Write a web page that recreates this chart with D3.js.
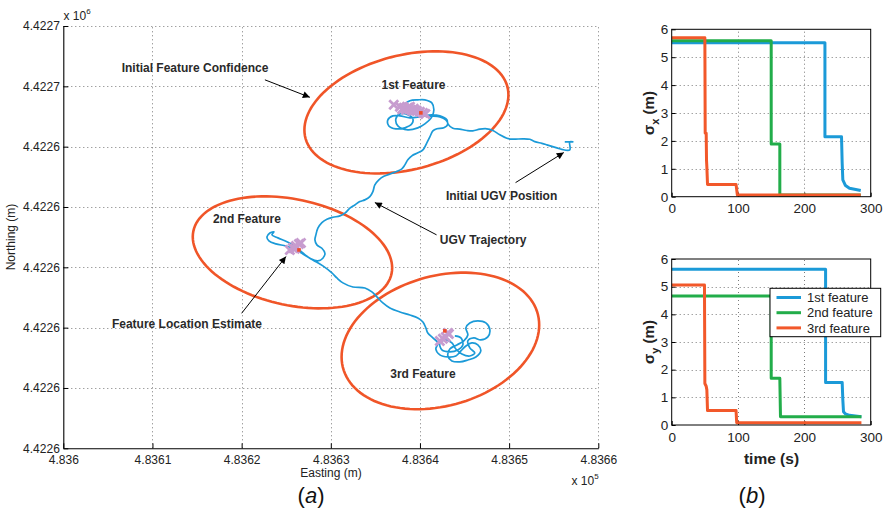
<!DOCTYPE html>
<html><head><meta charset="utf-8">
<script src="https://cdn.jsdelivr.net/npm/d3@7"></script>
<style>
body{margin:0;background:#fff}
svg{display:block}
text{font-family:"Liberation Sans",Arial,Helvetica,sans-serif}
</style>
</head><body>
<svg id="chart" width="886" height="515"></svg>
<script>
// ---------------- DATA ----------------
const eastOrigin = 483600;      // m
const northOrigin = 4422625;    // m
const xTickOffsets = [0, 10, 20, 30, 40, 50, 60];
const xTickLabels = ["4.836", "4.8361", "4.8362", "4.8363", "4.8364", "4.8365", "4.8366"];
const yTickOffsets = [0, 5, 10, 15, 20, 25, 30, 35];
const yTickLabels = ["4.4226", "4.4226", "4.4226", "4.4226", "4.4226", "4.4226", "4.4227", "4.4227"];

// UGV trajectory (easting offset m, northing offset m)
const trajectory = [
[56.24,25.40],[57.14,25.40],[56.80,25.40],[56.80,24.73],[55.91,24.77],[55.35,24.90],[54.23,25.15],[53.67,25.27],[52.88,25.42],[52.32,25.61],[51.54,25.65],[50.41,25.62],[49.74,25.70],[48.96,25.98],[48.17,26.34],[47.50,26.48],[46.72,26.45],[45.93,26.31],[45.26,26.34],[44.47,26.45],[43.69,26.53],[43.13,26.89],[43.02,27.22],[42.23,27.55],[41.33,27.64],[39.99,27.47],[38.87,27.39],[37.75,27.55],[36.96,27.55],[36.40,27.22],[36.51,26.72],[37.30,26.48],[38.31,26.56],[39.09,26.89],[39.20,27.31],[38.64,27.64],[37.75,27.72],[37.30,27.31],[37.52,26.72],[38.64,26.39],[39.76,26.56],[40.55,26.89],[41.33,27.47],[41.56,28.05],[41.33,28.63],[40.55,28.88],[39.76,28.88],[38.87,28.80],[38.31,28.47],[38.53,28.05],[39.43,27.80],[40.88,27.55],[42.23,27.47],[42.90,27.22],[43.13,26.89],[42.68,26.56],[41.90,26.48],[41.45,26.31],[41.11,25.81],[40.77,25.32],[40.33,24.73],[39.76,24.49],[39.09,24.24],[38.64,23.91],[38.31,23.49],[37.97,23.16],[37.52,22.99],[36.85,22.79],[35.95,22.54],[35.39,22.25],[34.94,21.83],[34.72,21.28],[34.38,20.86],[33.82,20.59],[33.26,20.45],[32.70,20.17],[32.14,19.90],[31.58,19.49],[31.02,19.26],[30.24,19.15],[29.56,18.99],[29.00,18.71],[28.55,18.24],[28.33,17.69],[28.22,17.27],[28.44,16.86],[29.00,16.58],[29.34,16.17],[29.11,15.75],[28.55,15.53],[27.77,15.70],[26.87,16.19],[26.09,16.69],[25.08,17.11],[24.07,17.44],[23.40,17.69],[23.62,17.94],[23.17,17.85],[22.84,17.52],[23.06,17.19],[23.85,16.94],[24.97,16.77],[25.86,16.53],[26.87,16.11],[27.99,15.61],[29.11,15.12],[30.12,14.54],[30.68,14.12],[31.36,13.71],[32.48,13.37],[33.82,13.29],[34.61,12.96],[35.17,12.55],[35.84,12.05],[36.63,11.63],[37.75,11.30],[38.87,11.05],[39.76,10.80],[40.33,10.47],[40.66,9.98],[40.88,9.56],[41.45,9.15],[42.01,8.73],
[41.78,8.23],[42.23,7.74],[43.13,7.57],[44.02,7.65],[44.59,8.07],[45.15,8.48],[45.82,8.73],[46.49,8.57],[46.82,8.07],[46.27,7.57],[45.37,7.32],[44.47,7.16],[43.58,7.24],[43.13,7.65],[43.35,8.23],[44.14,8.57],[44.92,8.90],[45.37,9.39],[45.15,9.98],[45.59,10.39],[46.49,10.56],[47.39,10.39],[47.84,9.81],[47.61,9.23],[46.82,8.98],[46.04,9.15],[45.37,8.90],[45.59,8.32],[46.15,7.90],[45.59,7.65],[44.70,7.82],[44.02,8.23],[43.58,8.73],[42.90,8.98],[42.23,8.73],[42.46,8.15],[43.35,7.99],[44.25,8.15],[44.81,8.57],[44.59,9.15],[43.91,9.31]
];

// Initial feature confidence ellipses (center offsets m, extents m, correlation)
const ellipseCenters = [[38.48, 27.84], [25.70, 16.24], [42.29, 8.90]];
const ellipseExtents = [[11.44, 5.06], [11.18, 4.64], [11.08, 5.66]];
const ellipseCorr = [0.287, -0.277, 0.234];

// Feature location estimates (easting offset, northing offset)
const estimates1 = [[37.06,28.47],[37.75,28.30],[38.19,28.22],[38.64,28.22],[38.98,28.05],[39.31,28.14],[39.65,27.97],[39.99,27.89],[40.33,27.80],[38.42,28.05],[38.87,28.30],[39.5,28.0],[38.0,28.1],[39.2,27.95],[40.6,27.7]];
const estimates2 = [[25.41,16.44],[25.75,16.61],[26.09,16.77],[26.43,16.94],[26.65,17.02],[25.97,16.53]];
const estimates3 = [[42.23,8.90],[42.57,9.07],[42.90,9.23],[43.24,9.48],[43.13,9.56]];
const truthMarks = [[40.10,27.80],[26.43,16.44],[42.79,9.73]];

// Annotations: text, center (easting offset, northing offset)
const annotTexts = ["Initial Feature Confidence", "1st Feature", "Initial UGV Position", "UGV Trajectory", "2nd Feature", "Feature Location Estimate", "3rd Feature"];
const annotPos = [[14.77,31.53],[39.28,30.12],[49.15,20.95],[47.09,17.33],[20.59,19.07],[13.87,10.31],[40.33,6.22]];
const arrowFrom = [[22.61,30.54],[50.72,22.02],[41.86,17.69],[20.0,11.19]];
const arrowTo   = [[27.65,29.09],[56.13,24.51],[34.94,20.37],[24.97,15.89]];

// Right panels: time (s), sigma (m)
const timeTicks = [0, 100, 200, 300];
const sigmaTicks = [0, 1, 2, 3, 4, 5, 6];
const seriesNames = ["1st feature", "2nd feature", "3rd feature"];
const seriesColors = ["#1b9ad8", "#22ad4a", "#f2582a"];
const sigmaX1 = [[0,5.52],[231,5.52],[231,2.15],[256,2.15],[257,1.2],[258,0.6],[262,0.4],[268,0.3],[285,0.22]];
const sigmaX2 = [[0,5.59],[150,5.59],[150,1.89],[163,1.89],[163,0.06],[285,0.06]];
const sigmaX3 = [[0,5.70],[50,5.70],[50.5,2.27],[52,2.27],[52.5,1.3],[53,1.07],[54,0.44],[97,0.44],[99,0.06],[285,0.06]];
const sigmaY1 = [[0,5.63],[232,5.63],[232,1.54],[257,1.54],[258,0.9],[259,0.48],[262,0.40],[268,0.35],[286,0.30]];
const sigmaY2 = [[0,4.66],[150,4.66],[150,1.69],[163,1.69],[164,0.30],[286,0.30]];
const sigmaY3 = [[0,5.06],[49.4,5.06],[50,1.5],[52,1.4],[53,1.27],[54,0.52],[97,0.52],[98,0.08],[286,0.08]];

// ---------------- DRAW ----------------
const svg = d3.select("#chart");
const gridColor = "#7a7a7a";
const textColor = "#222";
const snap = v => Math.round(v) + 0.5;

svg.append("defs").append("marker")
  .attr("id", "arrow").attr("viewBox", "0 0 10 10").attr("refX", 10).attr("refY", 5)
  .attr("markerWidth", 9).attr("markerHeight", 7).attr("markerUnits", "userSpaceOnUse")
  .attr("orient", "auto")
  .append("path").attr("d", "M0,0L10,5L0,10z").attr("fill", "#000");

// ===== Main plot =====
const x = d3.scaleLinear().domain([eastOrigin, eastOrigin + 60]).range([63.3, 598.3]);
const y = d3.scaleLinear().domain([northOrigin, northOrigin + 35]).range([448.3, 26]);
const X = e => x(eastOrigin + e);
const Y = n => y(northOrigin + n);

const main = svg.append("g");
main.append("g").selectAll("line").data(xTickOffsets.slice(1)).join("line")
  .attr("x1", d => snap(X(d))).attr("x2", d => snap(X(d))).attr("y1", y.range()[0]).attr("y2", y.range()[1])
  .attr("stroke", gridColor).attr("stroke-dasharray", "1,3").attr("stroke-width", 1);
main.append("g").selectAll("line").data(yTickOffsets.slice(1)).join("line")
  .attr("y1", d => snap(Y(d))).attr("y2", d => snap(Y(d))).attr("x1", x.range()[0]).attr("x2", x.range()[1])
  .attr("stroke", gridColor).attr("stroke-dasharray", "1,3").attr("stroke-width", 1);

const xAxis = d3.axisBottom(x).tickValues(xTickOffsets.map(d => eastOrigin + d))
  .tickFormat((d, i) => xTickLabels[i]).tickSizeInner(-5).tickSizeOuter(0).tickPadding(7);
const yAxis = d3.axisLeft(y).tickValues(yTickOffsets.map(d => northOrigin + d))
  .tickFormat((d, i) => yTickLabels[i]).tickSizeInner(-5).tickSizeOuter(0).tickPadding(3.5);
const gx = main.append("g").attr("transform", "translate(0,448.3)").call(xAxis);
const gy = main.append("g").attr("transform", "translate(63.3,0)").call(yAxis);
[gx, gy].forEach(g => {
  g.selectAll("text").attr("font-size", 12).attr("fill", textColor).attr("font-family", "Liberation Sans, Arial, sans-serif");
  g.select(".domain").attr("stroke", "#000").attr("stroke-width", 1.1);
  g.selectAll(".tick line").attr("stroke", "#000");
});

main.append("text").attr("x", 331).attr("y", 477).attr("text-anchor", "middle")
  .attr("font-size", 12).attr("fill", textColor).text("Easting (m)");
main.append("text").attr("transform", "translate(15,237) rotate(-90)").attr("text-anchor", "middle")
  .attr("font-size", 12).attr("fill", textColor).text("Northing (m)");
const e6 = main.append("text").attr("x", 63.5).attr("y", 20).attr("font-size", 12).attr("fill", textColor);
e6.append("tspan").text("x 10");
e6.append("tspan").attr("font-size", 8).attr("dy", -6).text("6");
const e5 = main.append("text").attr("x", 571.5).attr("y", 484.5).attr("font-size", 12).attr("fill", textColor);
e5.append("tspan").text("x 10");
e5.append("tspan").attr("font-size", 8).attr("dy", -6).text("5");

// ellipses
const tSteps = d3.range(0, 361, 3).map(a => a * Math.PI / 180);
const ellipsePts = i => {
  const [ce, cn] = ellipseCenters[i], [sx, sy] = ellipseExtents[i], r = ellipseCorr[i];
  return tSteps.map(t => [ce + sx * Math.cos(t), cn + sy * (r * Math.cos(t) + Math.sqrt(1 - r * r) * Math.sin(t))]);
};
main.append("g").selectAll("path").data(ellipseCenters.map((_, i) => ellipsePts(i))).join("path")
  .attr("d", d3.line().x(d => X(d[0])).y(d => Y(d[1])).curve(d3.curveLinearClosed))
  .attr("fill", "none").attr("stroke", "#f05528").attr("stroke-width", 2.6);

// trajectory
main.append("path").datum(trajectory)
  .attr("d", d3.line().x(d => X(d[0])).y(d => Y(d[1])).curve(d3.curveCatmullRom.alpha(0.5)))
  .attr("fill", "none").attr("stroke", "#1b9ad8").attr("stroke-width", 1.7).attr("stroke-linejoin", "round");

// feature estimates
const allEst = estimates1.concat(estimates2, estimates3);
main.append("g").selectAll("path").data(allEst).join("path")
  .attr("transform", d => `translate(${X(d[0])},${Y(d[1])})`)
  .attr("d", "M-4.5,-4.5L4.5,4.5M-4.5,4.5L4.5,-4.5")
  .attr("stroke", "#c79ccf").attr("stroke-width", 2.8).attr("fill", "none");
main.append("g").selectAll("rect").data(truthMarks).join("rect")
  .attr("x", d => X(d[0]) - 1.8).attr("y", d => Y(d[1]) - 1.8).attr("width", 3.6).attr("height", 3.6)
  .attr("fill", "#ee4a2a");

// annotations
main.append("g").selectAll("text").data(annotTexts).join("text")
  .attr("x", (d, i) => X(annotPos[i][0])).attr("y", (d, i) => Y(annotPos[i][1]) + 4.3)
  .attr("text-anchor", "middle").attr("font-size", 12).attr("font-weight", "bold")
  .attr("fill", "#2a2a2a").text(d => d);
main.append("g").selectAll("line").data(arrowFrom).join("line")
  .attr("x1", d => X(d[0])).attr("y1", d => Y(d[1]))
  .attr("x2", (d, i) => X(arrowTo[i][0])).attr("y2", (d, i) => Y(arrowTo[i][1]))
  .attr("stroke", "#000").attr("stroke-width", 1).attr("marker-end", "url(#arrow)");

const la = svg.append("text").attr("x", 311).attr("y", 503).attr("text-anchor", "middle")
  .attr("font-size", 22).attr("font-family", "Liberation Serif, Times New Roman, serif").attr("fill", "#111");
la.append("tspan").text("(");
la.append("tspan").attr("font-style", "italic").text("a");
la.append("tspan").text(")");

// ===== Right panels =====
const xt = d3.scaleLinear().domain([0, 300]).range([671.7, 870.7]);
function panel(top, bottom, series, sub) {
  const ys = d3.scaleLinear().domain([0, 6]).range([bottom, top]);
  const g = svg.append("g");
  g.append("g").selectAll("line").data([100, 200]).join("line")
    .attr("x1", d => snap(xt(d))).attr("x2", d => snap(xt(d))).attr("y1", bottom).attr("y2", top)
    .attr("stroke", gridColor).attr("stroke-dasharray", "1,3");
  g.append("g").selectAll("line").data([1, 2, 3, 4, 5]).join("line")
    .attr("y1", d => snap(ys(d))).attr("y2", d => snap(ys(d))).attr("x1", xt.range()[0]).attr("x2", xt.range()[1])
    .attr("stroke", gridColor).attr("stroke-dasharray", "1,3");
  const ax = g.append("g").attr("transform", `translate(0,${bottom})`)
    .call(d3.axisBottom(xt).tickValues(timeTicks).tickFormat(d3.format("d")).tickSizeInner(-4).tickSizeOuter(0).tickPadding(7));
  const ay = g.append("g").attr("transform", `translate(${xt.range()[0]},0)`)
    .call(d3.axisLeft(ys).tickValues(sigmaTicks).tickFormat(d3.format("d")).tickSizeInner(-4).tickSizeOuter(0).tickPadding(3.5));
  [ax, ay].forEach(a => {
    a.selectAll("text").attr("font-size", 13.5).attr("fill", textColor).attr("font-family", "Liberation Sans, Arial, sans-serif");
    a.select(".domain").attr("stroke", "none");
    a.selectAll(".tick line").attr("stroke", "#000");
  });
  const line = d3.line().x(d => xt(d[0])).y(d => ys(d[1]));
  g.append("g").selectAll("path").data(series).join("path")
    .attr("d", line).attr("fill", "none").attr("stroke", (d, i) => seriesColors[i])
    .attr("stroke-width", 3).attr("stroke-linejoin", "round");
  g.append("rect").attr("x", xt.range()[0]).attr("y", top)
    .attr("width", xt.range()[1] - xt.range()[0]).attr("height", bottom - top)
    .attr("fill", "none").attr("stroke", "#000").attr("stroke-width", 1);
  const lab = g.append("text").attr("transform", `translate(654,${(top + bottom) / 2}) rotate(-90)`)
    .attr("text-anchor", "middle").attr("font-size", 15).attr("font-weight", "bold").attr("fill", textColor);
  lab.append("tspan").text("σ");
  lab.append("tspan").attr("font-size", 11).attr("dy", 5).text(sub);
  lab.append("tspan").attr("dy", -5).text(" (m)");
  return ys;
}
panel(29.3, 196.7, [sigmaX1, sigmaX2, sigmaX3], "x");
panel(259, 425, [sigmaY1, sigmaY2, sigmaY3], "y");

svg.append("text").attr("x", 771.5).attr("y", 463.5).attr("text-anchor", "middle")
  .attr("font-size", 15.5).attr("font-weight", "bold").attr("fill", textColor).text("time (s)");

const lg = svg.append("g");
lg.append("rect").attr("x", 770).attr("y", 288.3).attr("width", 110.7).attr("height", 48.4)
  .attr("fill", "#fff").attr("stroke", "#000").attr("stroke-width", 1);
const legRows = lg.selectAll("g").data(seriesNames).join("g")
  .attr("transform", (d, i) => `translate(0,${297.5 + i * 15.2})`);
legRows.append("line").attr("x1", 776.5).attr("x2", 801).attr("stroke", (d, i) => seriesColors[i]).attr("stroke-width", 3);
legRows.append("text").attr("x", 807).attr("y", 4.6).attr("font-size", 13).attr("fill", textColor).text(d => d);

const lb = svg.append("text").attr("x", 752).attr("y", 503).attr("text-anchor", "middle")
  .attr("font-size", 22).attr("font-family", "Liberation Serif, Times New Roman, serif").attr("fill", "#111");
lb.append("tspan").text("(");
lb.append("tspan").attr("font-style", "italic").text("b");
lb.append("tspan").text(")");
</script>
</body></html>
